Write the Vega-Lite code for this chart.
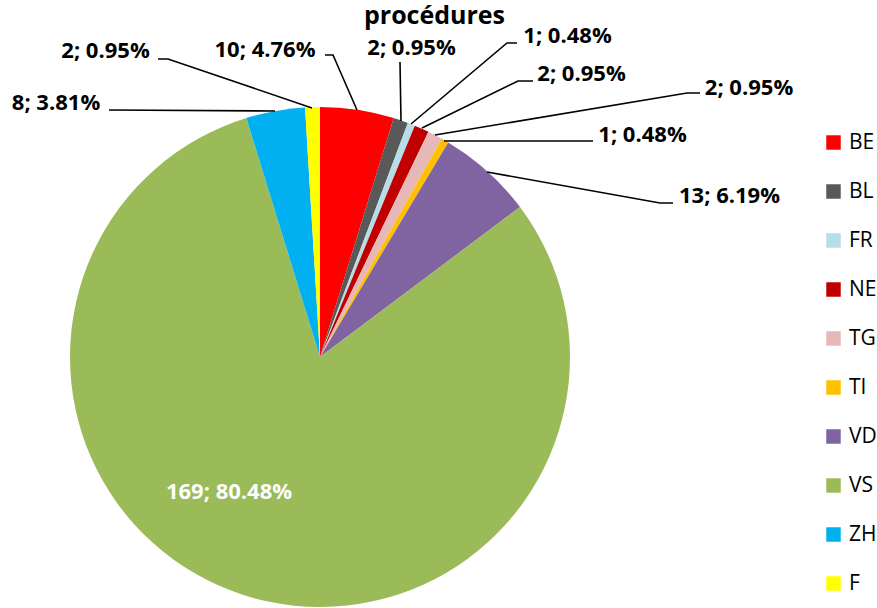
{
  "$schema": "https://vega.github.io/schema/vega-lite/v6.json",
  "width": 877,
  "height": 608,
  "autosize": {"type": "none"},
  "padding": 0,
  "background": "white",
  "config": {"view": {"stroke": null}},
  "title": {
    "text": "procédures",
    "anchor": "middle",
    "frame": "group",
    "orient": "top",
    "offset": -25,
    "baseline": "alphabetic",
    "dx": -4,
    "dy": 24,
    "font": "Open Sans",
    "fontSize": 25,
    "fontWeight": "bold",
    "color": "black"
  },
  "datasets": {
    "slices": [
      {"canton": "BE", "n": 10, "ord": 1, "label": "10; 4.76%", "lx": -55, "ly": 300},
      {"canton": "BL", "n": 2, "ord": 2, "label": "2; 0.95%", "lx": 91.5, "ly": 302},
      {"canton": "FR", "n": 1, "ord": 3, "label": "1; 0.48%", "lx": 247.5, "ly": 314},
      {"canton": "NE", "n": 2, "ord": 4, "label": "2; 0.95%", "lx": 261.5, "ly": 276},
      {"canton": "TG", "n": 2, "ord": 5, "label": "2; 0.95%", "lx": 429, "ly": 262},
      {"canton": "TI", "n": 1, "ord": 6, "label": "1; 0.48%", "lx": 322.5, "ly": 215},
      {"canton": "VD", "n": 13, "ord": 7, "label": "13; 6.19%", "lx": 409.5, "ly": 154},
      {"canton": "VS", "n": 169, "ord": 8, "label": "169; 80.48%", "lx": -91, "ly": -142},
      {"canton": "ZH", "n": 8, "ord": 9, "label": "8; 3.81%", "lx": -264, "ly": 247},
      {"canton": "F", "n": 2, "ord": 10, "label": "2; 0.95%", "lx": -214.5, "ly": 299}
    ],
    "leaders": [
      {"canton": "F", "pt": 1, "x": -8, "y": 249},
      {"canton": "F", "pt": 2, "x": -152, "y": 298},
      {"canton": "F", "pt": 3, "x": -162, "y": 298},
      {"canton": "BE", "pt": 1, "x": 37, "y": 247},
      {"canton": "BE", "pt": 2, "x": 13, "y": 302},
      {"canton": "BE", "pt": 3, "x": 5, "y": 302},
      {"canton": "ZH", "pt": 1, "x": -45, "y": 246},
      {"canton": "ZH", "pt": 2, "x": -211, "y": 247},
      {"canton": "BL", "pt": 1, "x": 81, "y": 236},
      {"canton": "BL", "pt": 2, "x": 80, "y": 295},
      {"canton": "FR", "pt": 1, "x": 91, "y": 233},
      {"canton": "FR", "pt": 2, "x": 187, "y": 314},
      {"canton": "FR", "pt": 3, "x": 197, "y": 314},
      {"canton": "NE", "pt": 1, "x": 102, "y": 229},
      {"canton": "NE", "pt": 2, "x": 198, "y": 276},
      {"canton": "NE", "pt": 3, "x": 213, "y": 276},
      {"canton": "TG", "pt": 1, "x": 115, "y": 222},
      {"canton": "TG", "pt": 2, "x": 367, "y": 264},
      {"canton": "TG", "pt": 3, "x": 380, "y": 264},
      {"canton": "TI", "pt": 1, "x": 124, "y": 216},
      {"canton": "TI", "pt": 2, "x": 273, "y": 216},
      {"canton": "VD", "pt": 1, "x": 167, "y": 185},
      {"canton": "VD", "pt": 2, "x": 340, "y": 154},
      {"canton": "VD", "pt": 3, "x": 353, "y": 154}
    ]
  },
  "layer": [
    {
      "data": {"name": "slices"},
      "mark": {"type": "arc", "radius": 250, "strokeWidth": 0},
      "encoding": {
        "x": {"datum": 0, "type": "quantitative", "scale": {"domain": [-320, 557], "nice": false, "zero": false}, "axis": null},
        "y": {"datum": 0, "type": "quantitative", "scale": {"domain": [-251, 357], "nice": false, "zero": false}, "axis": null},
        "theta": {"field": "n", "type": "quantitative", "stack": true},
        "order": {"field": "ord", "type": "quantitative"},
        "color": {
          "field": "canton",
          "type": "nominal",
          "scale": {
            "domain": ["BE", "BL", "FR", "NE", "TG", "TI", "VD", "VS", "ZH", "F"],
            "range": ["#FF0000", "#595959", "#B7DEE8", "#C00000", "#E6B9B8", "#FFC000", "#8064A2", "#9BBB59", "#00B0F0", "#FFFF00"]
          },
          "legend": {
            "orient": "none",
            "legendX": 823,
            "legendY": 132,
            "title": null,
            "symbolType": "square",
            "symbolSize": 210,
            "symbolStrokeWidth": 0,
            "labelFont": "Open Sans",
            "labelFontSize": 21,
            "labelColor": "black",
            "labelOffset": 5,
            "rowPadding": 27
          }
        }
      }
    },
    {
      "data": {"name": "leaders"},
      "mark": {"type": "line", "color": "black", "strokeWidth": 1.6},
      "encoding": {
        "x": {"field": "x", "type": "quantitative"},
        "y": {"field": "y", "type": "quantitative"},
        "detail": {"field": "canton", "type": "nominal"},
        "order": {"field": "pt", "type": "quantitative"}
      }
    },
    {
      "data": {"name": "slices"},
      "mark": {"type": "text", "align": "center", "baseline": "alphabetic", "font": "Open Sans", "fontSize": 22, "fontWeight": "bold"},
      "encoding": {
        "x": {"field": "lx", "type": "quantitative"},
        "y": {"field": "ly", "type": "quantitative"},
        "text": {"field": "label", "type": "nominal"},
        "color": {"condition": {"test": "datum.canton === 'VS'", "value": "white"}, "value": "black"}
      }
    }
  ]
}
